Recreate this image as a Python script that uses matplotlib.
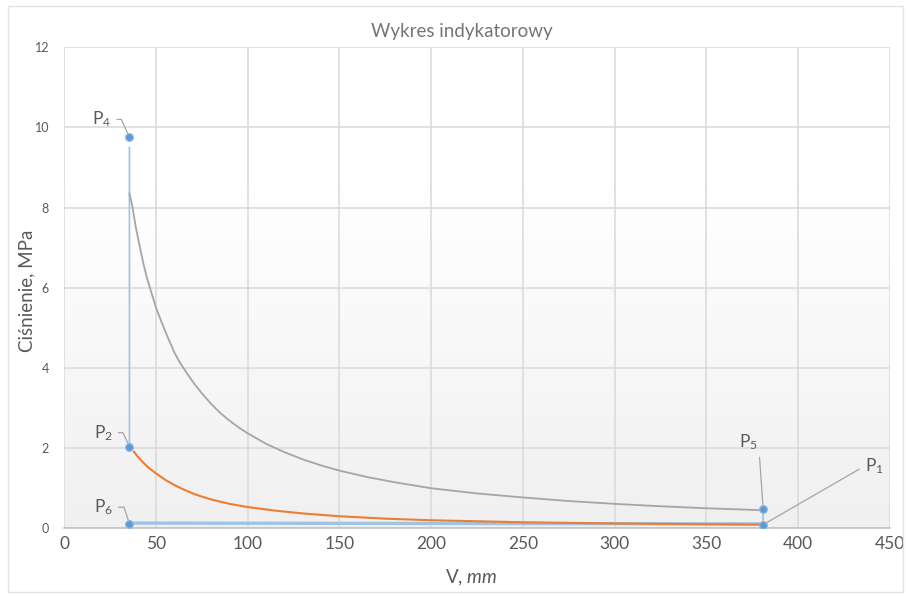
import matplotlib
matplotlib.use('Agg')
import matplotlib.pyplot as plt
import numpy as np
from matplotlib.patches import Rectangle

plt.rcParams['font.family'] = ['Lato', 'DejaVu Sans']
plt.rcParams['mathtext.fontset'] = 'custom'
plt.rcParams['mathtext.rm'] = 'Lato'
plt.rcParams['mathtext.it'] = 'Lato:italic'

# Expansion curve (gray)
v_exp = [35.5, 37, 39, 41, 43, 45, 47.5, 50, 53, 56, 60, 63, 65, 67, 71, 75, 80, 85, 90, 95, 100,
         110, 120, 130, 140, 150, 165, 180, 200, 225, 250, 275, 300, 325, 350, 381]
p_exp = [8.35, 8.05, 7.5, 7.06, 6.62, 6.25, 5.87, 5.5, 5.14, 4.8, 4.38, 4.13, 3.99, 3.85, 3.59,
         3.36, 3.1, 2.87, 2.68, 2.51, 2.36, 2.1, 1.89, 1.71, 1.56, 1.43, 1.27, 1.14, 0.99, 0.86,
         0.76, 0.67, 0.6, 0.54, 0.49, 0.44]

# Compression curve (orange)
v_comp = [38, 40, 43, 46, 50, 55, 60, 65, 70, 75, 80, 90, 100, 115, 130, 150, 175, 200, 250, 300, 350, 381]
p_comp = [1.9, 1.78, 1.63, 1.5, 1.36, 1.2, 1.07, 0.96, 0.86, 0.78, 0.71, 0.6, 0.52, 0.43, 0.36, 0.29,
          0.23, 0.19, 0.14, 0.11, 0.09, 0.08]

# Characteristic points (blue)
pt_names = ['P$_1$', 'P$_2$', 'P$_4$', 'P$_5$', 'P$_6$']
pt_v = [381, 35.5, 35.5, 381, 35.5]
pt_p = [0.08, 2.03, 9.75, 0.48, 0.10]

# connecting lines of the cycle (blue), NaN = break
v_link = [35.5, 35.5, np.nan, 381, 381, 35.5, np.nan, 35.5, 381]
p_link = [2.03, 9.5, np.nan, 0.48, 0.08, 0.10, np.nan, 0.14, 0.12]

# label offsets in points: (dx, dy, angleB of leader)
lbl = {
    'P$_1$': (73, 42, 30),
    'P$_2$': (-12, 10, 115),
    'P$_4$': (-13, 13, 114),
    'P$_5$': (-4, 48, 94),
    'P$_6$': (-12, 12, 108),
}

fig = plt.figure(figsize=(9.06, 5.97), dpi=100)
fig.patches.append(Rectangle((0.009, 0.008), 0.988, 0.982, transform=fig.transFigure,
                             fill=False, edgecolor='#E3E3E3', lw=1.0))
ax = fig.add_axes([0.071, 0.1158, 0.911, 0.8048])

# background gradient: white at top, light gray at the bottom
grad = np.linspace(0, 1, 256).reshape(-1, 1)
grad = np.clip((grad - 0.3) / 0.7, 0, 1)
cols = np.ones((256, 1, 3))
cols[:, 0, :] = (1 - grad) * 1.0 + grad * (240 / 255)
ax.imshow(cols, extent=[0, 450, 0, 12], aspect='auto', zorder=0, origin='upper')

ax.set_xlim(0, 450)
ax.set_ylim(0, 12)
ax.set_xticks(np.arange(0, 451, 50))
ax.set_yticks(np.arange(0, 13, 2))
ax.grid(True, color='#D9D9D9', lw=1.1, zorder=1)
ax.set_axisbelow(True)
for s in ['left', 'right', 'top']:
    ax.spines[s].set_visible(False)
ax.spines['bottom'].set_color('#BFBFBF')
ax.spines['bottom'].set_linewidth(1.1)
ax.tick_params(axis='both', length=0, colors='#595959')
ax.tick_params(axis='x', labelsize=12.5, pad=6)
ax.tick_params(axis='y', labelsize=9, pad=11)

ax.plot(v_link, p_link, color='#9DC3E6', lw=1.2, zorder=3)
ax.plot(v_exp, p_exp, color='#A5A5A5', lw=1.3, zorder=4)
ax.plot(v_comp, p_comp, color='#ED7D31', lw=1.5, zorder=4)
ax.plot(pt_v, pt_p, ls='none', marker='o', ms=5.5, mfc='#5B9BD5', mec='#8DB6E2', mew=0.9, zorder=5)

for name, v, p in zip(pt_names, pt_v, pt_p):
    dx, dy, ang = lbl[name]
    ax.annotate(name, xy=(v, p), xytext=(dx, dy), textcoords='offset points',
                ha='right' if dx < 0 else 'left', va='center', fontsize=12.5, color='#595959',
                arrowprops=dict(arrowstyle='-', color='#A5A5A5', lw=0.9, shrinkA=2, shrinkB=3,
                                connectionstyle='angle,angleA=0,angleB=%d,rad=0' % ang),
                zorder=6)

fig.text(0.51, 0.948, 'Wykres indykatorowy', ha='center', va='center', fontsize=13.5, color='#757575')
fig.text(0.03, 0.513, 'Ciśnienie, MPa', ha='center', va='center', rotation=90, fontsize=13.5, color='#595959')
fig.text(0.52, 0.032, r'V, $\mathit{mm}$', ha='center', va='center', fontsize=13.5, color='#595959')

fig.savefig('out.png', dpi=100)
